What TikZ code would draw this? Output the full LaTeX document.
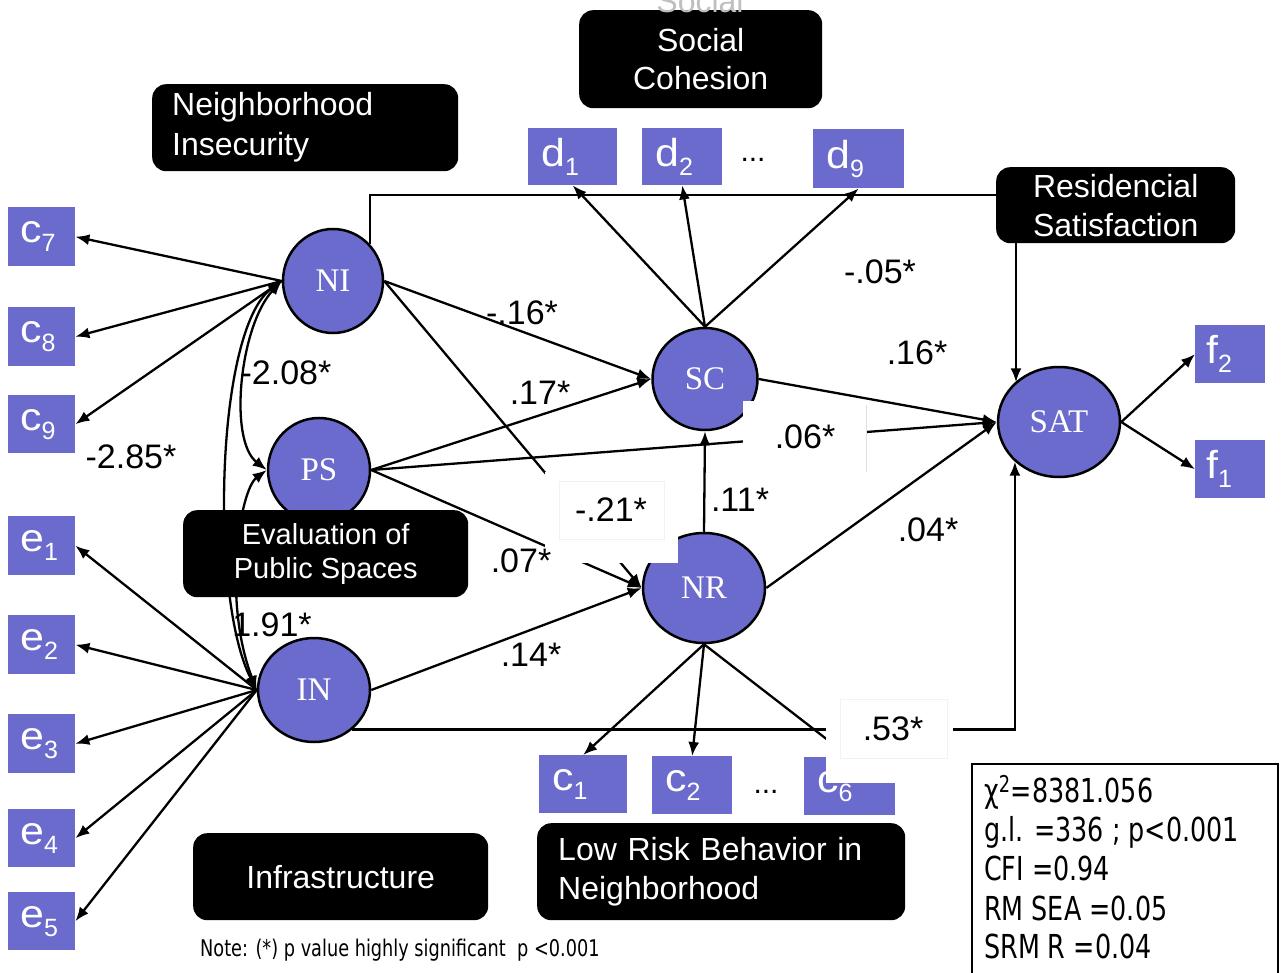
\documentclass[tikz,border=0pt]{standalone}
\usepackage{fontspec}
\setmainfont{Liberation Sans}
\newfontfamily\tmsfont{Liberation Serif}
\newfontfamily\indfont[FakeStretch=1.1]{Liberation Sans}
\newfontfamily\condfont[FakeStretch=0.77]{DejaVu Sans}
\usetikzlibrary{shapes.geometric,arrows.meta}
\definecolor{indc}{RGB}{107,107,205}
\newcommand\lsub[1]{\raisebox{-9pt}{\normalfont\fontsize{25}{25}\selectfont #1}}
\begin{document}
\begin{tikzpicture}[x=1pt,y=-1pt,
  ind/.style={rectangle, fill=indc, text=white, font=\indfont\fontsize{39}{40}\selectfont, inner xsep=13pt, inner ysep=0pt, align=left, anchor=north west},
  lat/.style={ellipse, fill=indc, draw=black, line width=2.5pt, text=white, font=\tmsfont\fontsize{33}{36}\selectfont, inner sep=0pt},
  blk/.style={rectangle, rounded corners=14pt, fill=black, text=white, inner ysep=0pt, anchor=north west},
  lab/.style={font=\fontsize{34}{36}\selectfont, inner sep=0pt},
  arr/.style={line width=2.3pt, -{Latex[length=14pt,width=11pt]}},
  cov/.style={line width=2.3pt, {Latex[length=14pt,width=11pt]}-{Latex[length=14pt,width=11pt]}},
  stat/.style={font=\condfont\fontsize{33}{36}\selectfont, inner sep=0pt, anchor=base west}
]
\useasboundingbox (0,0) rectangle (1284,973);

% latent variables
\node[lat, minimum width=100pt, minimum height=104pt] (NI) at (333,281) {NI};
\node[lat, minimum width=102pt, minimum height=104pt] (PS) at (319,470) {PS};
\node[lat, minimum width=105pt, minimum height=102pt] (SC) at (705,379) {SC};
\node[lat, minimum width=122pt, minimum height=110pt] (NR) at (704,588) {NR};
\node[lat, minimum width=112pt, minimum height=104pt] (IN) at (314,690) {IN};
\node[lat, minimum width=122pt, minimum height=110pt] (SAT) at (1059,422) {SAT};

% indicators
\node[ind, text width=43pt, minimum height=59pt, inner xsep=12pt] (c7) at (8,207) {c\lsub{7}};
\node[ind, text width=43pt, minimum height=59pt, inner xsep=12pt] (c8) at (8,307) {c\lsub{8}};
\node[ind, text width=43pt, minimum height=58pt, inner xsep=12pt] (c9) at (8,395) {c\lsub{9}};
\node[ind, text width=43pt, minimum height=59pt, inner xsep=12pt] (e1) at (8,516) {e\lsub{1}};
\node[ind, text width=43pt, minimum height=59pt, inner xsep=12pt] (e2) at (8,615) {e\lsub{2}};
\node[ind, text width=43pt, minimum height=59pt, inner xsep=12pt] (e3) at (8,714) {e\lsub{3}};
\node[ind, text width=43pt, minimum height=58pt, inner xsep=12pt] (e4) at (8,809) {e\lsub{4}};
\node[ind, text width=43pt, minimum height=58pt, inner xsep=12pt] (e5) at (8,892) {e\lsub{5}};
\node[ind, text width=63pt, minimum height=57pt] (d1) at (528,128) {d\lsub{1}};
\node[ind, text width=54pt, minimum height=57pt] (d2) at (642,128) {d\lsub{2}};
\node[ind, text width=65pt, minimum height=59pt] (d9) at (813,129) {d\lsub{9}};
\node[ind, text width=48pt, minimum height=58pt, inner xsep=11pt] (f2) at (1195,325) {f\lsub{2}};
\node[ind, text width=48pt, minimum height=58pt, inner xsep=11pt] (f1) at (1195,440) {f\lsub{1}};
\node[ind, text width=62pt, minimum height=58pt] (c1) at (539,755) {c\lsub{1}};
\node[ind, text width=54pt, minimum height=58pt] (c2) at (652,756) {c\lsub{2}};
\node[ind, text width=65pt, minimum height=58pt] (c6) at (804,757) {c\lsub{6}};
\node[font=\fontsize{30}{30}\selectfont, inner sep=0pt] (dotsd) at (753,160) {...};
\node[font=\fontsize{30}{30}\selectfont, inner sep=0pt] (dotsc) at (766,792) {...};

% measurement arrows
\foreach \t in {c7,c8,c9} \draw[arr] (NI.west) -- (\t.east);
\foreach \t in {e1,e2,e3,e4,e5} \draw[arr] (IN.west) -- (\t.east);
\foreach \t in {d1,d2,d9} \draw[arr] (SC.north) -- (\t.south);
\foreach \t in {c1,c2,c6} \draw[arr] (NR.south) -- (\t.north);
\foreach \t in {f2,f1} \draw[arr] (SAT.east) -- (\t.west);

% structural paths
\draw[arr] (NI.east) -- (SC.west);
\draw[arr] (NI.east) -- (NR.west);
\draw[arr] (PS.east) -- (SC.west);
\draw[arr] (PS.east) -- (SAT.west);
\draw[arr] (PS.east) -- (NR.west);
\draw[arr] (IN.east) -- (NR.west);
\draw[arr] (SC.east) -- (SAT.west);
\draw[arr] (NR.east) -- (SAT.west);
\draw[arr] (NR.north) -- (SC.south);
\coordinate (topc) at (1016,195);
\draw[arr] (NI.45) |- (topc) -- (topc |- SAT.138);
\draw[arr] (IN.-46) -| (SAT.222);

% covariances
\draw[cov] (NI.west) .. controls (240,325) and (228,440) .. (PS.west);
\draw[cov] (NI.west) .. controls (215,330) and (210,600) .. (IN.west);
\draw[cov] (PS.west) .. controls (240,490) and (222,600) .. (IN.west);

% white label patches
\fill[white] (545,472) rectangle (678,563);
\fill[white] (743,401) rectangle (866,472);
\draw[black!12, line width=1pt] (866,405) -- (866,472);
\fill[white] (826,699) rectangle (953,783);
\draw[black!5, line width=1pt] (559,481) rectangle (664,539);
\draw[black!5, line width=1pt] (840,699) rectangle (947,758);

% coefficients
\node[lab] (l1) at (522,313) {-.16*};
\node[lab] (l2) at (540,393) {.17*};
\node[lab] (l3) at (286,373) {-2.08*};
\node[lab] (l4) at (131,457) {-2.85*};
\node[lab] (l5) at (880,272) {-.05*};
\node[lab] (l6) at (917,353) {.16*};
\node[lab] (l7) at (805,437) {.06*};
\node[lab] (l8) at (611,510) {-.21*};
\node[lab] (l9) at (521,561) {.07*};
\node[lab] (l10) at (740,500) {.11*};
\node[lab] (l11) at (928,530) {.04*};
\node[lab] (l12) at (272,625) {1.91*};
\node[lab] (l13) at (531,655) {.14*};
\node[lab] (l14) at (893,729) {.53*};

% title boxes
\node[blk, align=left, text width=266pt, inner xsep=20pt, minimum height=87pt, font=\fontsize{32}{40}\selectfont] (NIbox) at (152,84) {Neighborhood\\Insecurity};
\node[blk, align=center, minimum width=243pt, minimum height=98pt, font=\fontsize{32}{38}\selectfont] (SCbox) at (579,10) {Social\\Cohesion};
\node[font=\fontsize{32}{36}\selectfont, text=black!25, anchor=base, inner sep=0pt] (ghost) at (700,13) {Social};
\node[blk, align=center, minimum width=239pt, minimum height=76pt, font=\fontsize{32}{39}\selectfont] (RSbox) at (996,167) {Residencial\\Satisfaction};
\node[blk, align=center, minimum width=285pt, minimum height=87pt, font=\fontsize{29}{34}\selectfont] (EPbox) at (183,510) {Evaluation of\\Public Spaces};
\node[blk, align=center, minimum width=295pt, minimum height=87pt, font=\fontsize{32}{38}\selectfont] (INFbox) at (193,833) {Infrastructure};
\node[blk, align=left, text width=326pt, inner xsep=21pt, minimum height=97pt, font=\fontsize{32}{39}\selectfont] (LRbox) at (537,823) {Low Risk Behavior in\\Neighborhood};

% fit statistics
\node[draw, line width=2pt, anchor=north west, minimum width=306pt, minimum height=230pt, inner sep=0pt] (stats) at (971,763) {};
\node[stat] (s1) at (984,802) {χ\textsuperscript{2}=8381.056};
\node[stat] (s2) at (984,841) {g.l. =336 ; p<0.001};
\node[stat] (s3) at (984,880) {CFI =0.94};
\node[stat] (s4) at (984,920) {RM SEA =0.05};
\node[stat] (s5) at (984,958) {SRM R =0.04};

% note
\node[font=\condfont\fontsize{23}{26}\selectfont, inner sep=0pt, anchor=base west] (note) at (200,956) {Note: (*) p value highly significant \ p <0.001};
\end{tikzpicture}
\end{document}
